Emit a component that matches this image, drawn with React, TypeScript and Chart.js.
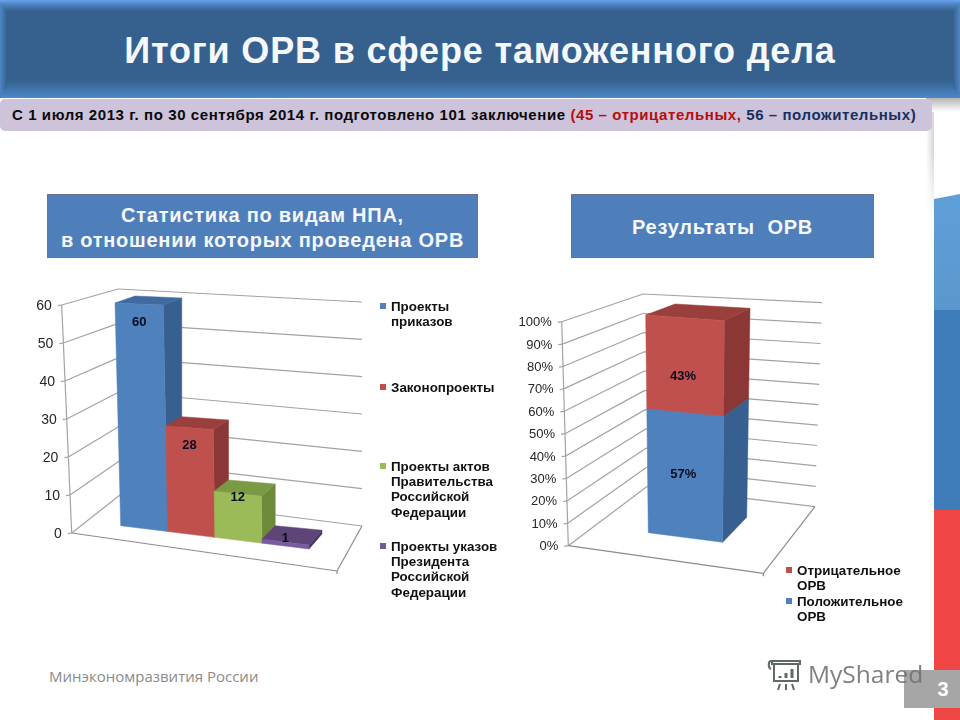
import React, { useEffect, useRef } from "react";
import { Chart } from "chart.js/auto";

// chart data
const npaCategories = ["НПА"];
const npaSeries = [
  "Проекты приказов",
  "Законопроекты",
  "Проекты актов Правительства Российской Федерации",
  "Проекты указов Президента Российской Федерации",
];
const npaValues = [60, 28, 12, 1];
const npaTicks = { min: 0, max: 60, step: 10 };

const orvCategories = ["ОРВ"];
const orvSeries = ["Положительное ОРВ", "Отрицательное ОРВ"];
const orvValues = [57, 43];
const orvTicks = { min: 0, max: 100, step: 10 };

// colours: front, side, top
const blue = ["#4f81bd", "#375f8f", "#3f6b9f"];
const red = ["#c0504d", "#8a3735", "#9b3f3c"];
const green = ["#9bbb59", "#6d8a3a", "#7a9a45"];
const purple = ["#7a5c9e", "#4a3560", "#5e4577"];

type Pt = [number, number];
// quads are tl, tr, bl, br in page pixels
type Geom = {
  origin: Pt;
  wall: { a: Pt; b: Pt; c: Pt; d: Pt; e: Pt; g: Pt; h: Pt };
  front: [Pt, Pt, Pt, Pt];
  back: [Pt, Pt, Pt, Pt];
  tickFont: string;
};

const npaGeom: Geom = {
  origin: [0, 270],
  wall: {
    a: [71.7, 533],
    b: [337, 571],
    c: [120, 495],
    d: [362, 526],
    e: [61.7, 305],
    g: [118, 289],
    h: [362, 302],
  },
  front: [[115, 303], [308, 311], [120.7, 525.7], [309, 549]],
  back: [[135, 296], [322, 304], [135, 516], [322, 534]],
  tickFont: "14px 'Liberation Sans'",
};

const orvGeom: Geom = {
  origin: [500, 270],
  wall: {
    a: [568.3, 545.7],
    b: [763.3, 573.3],
    c: [646.7, 486.7],
    d: [815, 506.7],
    e: [561.7, 321.7],
    g: [643, 294],
    h: [822, 302.7],
  },
  front: [[645.7, 315], [724.3, 320.7], [648.3, 532.7], [722.7, 542.3]],
  back: [[675, 304], [750, 308.3], [672, 507], [746.7, 517.3]],
  tickFont: "13px 'Liberation Sans'",
};

const lerp = (p: Pt, q: Pt, t: number): Pt => [p[0] + (q[0] - p[0]) * t, p[1] + (q[1] - p[1]) * t];
const bilerp = (q: [Pt, Pt, Pt, Pt], u: number, v: number): Pt =>
  lerp(lerp(q[2], q[3], u), lerp(q[0], q[1], u), v);

const poly = (ctx: CanvasRenderingContext2D, pts: Pt[], fill: string) => {
  ctx.beginPath();
  pts.forEach((p, i) => (i ? ctx.lineTo(p[0], p[1]) : ctx.moveTo(p[0], p[1])));
  ctx.closePath();
  ctx.fillStyle = fill;
  ctx.fill();
  ctx.strokeStyle = fill;
  ctx.lineWidth = 0.5;
  ctx.stroke();
};

const seg = (ctx: CanvasRenderingContext2D, p: Pt, q: Pt) => {
  ctx.beginPath();
  ctx.moveTo(p[0], p[1]);
  ctx.lineTo(q[0], q[1]);
  ctx.stroke();
};

// draws the bars as boxes, projecting the pixels the scales gave the flat bars
const boxPlugin = (geom: Geom, labelOffset: (h: number, i: number) => number, suffix: string) => ({
  id: "box3d",
  beforeDatasetsDraw(chart: any) {
    const { ctx, chartArea } = chart;
    const { left, bottom, width, height } = chartArea;
    const w = geom.wall;
    const yScale = chart.scales.y;
    const toV = (py: number) => (bottom - py) / height;
    ctx.save();
    ctx.translate(-geom.origin[0], -geom.origin[1]);

    ctx.strokeStyle = "#a3a3a3";
    ctx.lineWidth = 1.2;
    ctx.textAlign = "right";
    ctx.textBaseline = "middle";
    ctx.font = geom.tickFont;
    yScale.ticks.forEach((tick: any) => {
      const v = toV(yScale.getPixelForValue(tick.value));
      const p0 = lerp(w.a, w.e, v);
      const p1 = lerp(w.c, w.g, v);
      const p2 = lerp(w.d, w.h, v);
      seg(ctx, [p0[0] - 4, p0[1] + 0.6], p0);
      seg(ctx, p0, p1);
      seg(ctx, p1, p2);
      ctx.fillStyle = "#262626";
      ctx.fillText(tick.label, p0[0] - 10, p0[1] + 1);
    });
    seg(ctx, w.e, w.a);
    ctx.strokeStyle = "#8c8c8c";
    seg(ctx, w.a, w.b);
    seg(ctx, w.b, w.d);
    seg(ctx, w.b, [w.b[0], w.b[1] + 3]);

    const labels: { text: string; x: number; y: number }[] = [];
    chart.data.datasets.forEach((ds: any, i: number) => {
      const bar = chart.getDatasetMeta(i).data[0];
      const u0 = (bar.x - bar.width / 2 - left) / width;
      const u1 = (bar.x + bar.width / 2 - left) / width;
      const v0 = toV(bar.base);
      const v1 = toV(bar.y);
      const f = (u: number, v: number) => bilerp(geom.front, u, v);
      const b = (u: number, v: number) => bilerp(geom.back, u, v);
      const [cFront, cSide, cTop] = ds.faces;
      poly(ctx, [f(u1, v0), b(u1, v0), b(u1, v1), f(u1, v1)], cSide);
      poly(ctx, [f(u0, v1), b(u0, v1), b(u1, v1), f(u1, v1)], cTop);
      poly(ctx, [f(u0, v0), f(u1, v0), f(u1, v1), f(u0, v1)], cFront);
      const top = f((u0 + u1) / 2, v1);
      const faceH = f((u0 + u1) / 2, v0)[1] - top[1];
      labels.push({ text: ds.data[0] + suffix, x: top[0] - (suffix ? 2 : 0), y: top[1] + labelOffset(faceH, i) });
    });
    ctx.font = "bold 13px 'Liberation Sans'";
    ctx.textAlign = "center";
    ctx.fillStyle = "#0c0c20";
    labels.forEach((l) => ctx.fillText(l.text, l.x, l.y));
    ctx.restore();
    return false;
  },
});

type BoxChartProps = {
  geom: Geom;
  size: Pt;
  categories: string[];
  series: string[];
  values: number[];
  faces: string[][];
  ticks: { min: number; max: number; step: number };
  stacked: boolean;
  suffix: string;
  labelOffset: (h: number, i: number) => number;
};

const BoxChart: React.FC<BoxChartProps> = (p) => {
  const ref = useRef<HTMLCanvasElement | null>(null);

  useEffect(() => {
    if (!ref.current) return;
    const chart = new Chart(ref.current, {
      type: "bar",
      data: {
        labels: p.categories,
        datasets: p.series.map((label, i) => ({
          label,
          data: [p.values[i]],
          backgroundColor: p.faces[i][0],
          faces: p.faces[i],
          categoryPercentage: 1,
          barPercentage: 1,
        })) as any,
      },
      options: {
        responsive: false,
        animation: false,
        plugins: { legend: { display: false }, tooltip: { enabled: false } },
        scales: {
          x: { display: false, stacked: p.stacked },
          y: {
            display: false,
            stacked: p.stacked,
            min: p.ticks.min,
            max: p.ticks.max,
            ticks: { stepSize: p.ticks.step, callback: (v: any) => v + p.suffix },
          },
        },
      },
      plugins: [boxPlugin(p.geom, p.labelOffset, p.suffix)],
    });
    return () => chart.destroy();
  }, []);

  return (
    <canvas
      ref={ref}
      width={p.size[0]}
      height={p.size[1]}
      style={{ position: "absolute", left: p.geom.origin[0], top: p.geom.origin[1], width: p.size[0], height: p.size[1] }}
    />
  );
};

const sans = "'Liberation Sans', Arial, sans-serif";

const Legend: React.FC<{ text: string; color: string; x: number; y: number; width: number }> = ({ text, color, x, y, width }) => (
  <div style={{ position: "absolute", left: x, top: y, width: width + 12, paddingLeft: 11, font: `bold 13.4px/15.2px ${sans}`, color: "#111" }}>
    <span style={{ position: "absolute", left: 0, top: 4, width: 6, height: 6, background: color }} />
    {text}
  </div>
);

const box: React.CSSProperties = {
  position: "absolute",
  top: 194,
  height: 64,
  boxSizing: "border-box",
  paddingTop: 3,
  background: "#4f7fba",
  border: "1px solid #6d6f98",
  color: "#f4f8fc",
  font: `bold 20px/25px ${sans}`,
  letterSpacing: 0.75,
  textAlign: "center",
  display: "flex",
  alignItems: "center",
  justifyContent: "center",
};

export default function App() {
  return (
    <div style={{ position: "absolute", left: 0, top: 0, width: 960, height: 720, overflow: "hidden", background: "#fff", fontFamily: sans }}>
      {/* tricolour stripe */}
      <div style={{ position: "absolute", left: 934, top: 194, width: 26, height: 116, background: "linear-gradient(#5f9fd8, #5b97cd)", clipPath: "polygon(0 5px, 100% 0, 100% 100%, 0 100%)" }} />
      <div style={{ position: "absolute", left: 934, top: 310, width: 26, height: 200, background: "#3e7db9" }} />
      <div style={{ position: "absolute", left: 934, top: 510, width: 26, height: 210, background: "#f04545" }} />
      <div style={{ position: "absolute", left: 926, top: 100, width: 8, height: 120, background: "linear-gradient(90deg, #fff, #d4d4d4)", maskImage: "linear-gradient(#000 40%, transparent)" }} />
      <div style={{ position: "absolute", left: 926, top: 98, width: 34, height: 14, background: "linear-gradient(#b5b5b5, #fff)" }} />

      {/* header */}
      <div style={{ position: "absolute", left: 0, top: 0, width: 960, height: 98, background: "linear-gradient(#66a3ec 0, #4f86c6 4px, #36618f 11px, #36618f 80px, #4c88c8 98px)" }}>
        <div style={{ position: "absolute", left: 0, top: 4, width: 7, height: 90, background: "linear-gradient(90deg, #4f86c6, #36618f)", clipPath: "polygon(0 0, 100% 7px, 100% 84px, 0 100%)" }} />
        <div style={{ position: "absolute", right: 0, top: 4, width: 7, height: 90, background: "linear-gradient(270deg, #4f86c6, #36618f)", clipPath: "polygon(100% 0, 0 7px, 0 84px, 100% 100%)" }} />
        <div style={{ position: "absolute", left: 0, right: 0, top: 31, textAlign: "center", color: "#f5f9fd", font: `bold 36px/40px ${sans}`, letterSpacing: 0.82, whiteSpace: "nowrap" }}>
          Итоги ОРВ в сфере таможенного дела
        </div>
      </div>

      {/* subtitle */}
      <div style={{ position: "absolute", left: 0, top: 99, width: 932, height: 32, background: "#cdc3da", borderRadius: 5, font: `bold 15px/32px ${sans}`, color: "#0a0a0a", whiteSpace: "nowrap", paddingLeft: 12, boxSizing: "border-box", letterSpacing: 0.58 }}>
        С 1 июля 2013 г. по 30 сентября 2014 г. подготовлено 101 заключение{" "}
        <span style={{ color: "#b80d0d" }}>(45 – отрицательных,</span>{" "}
        <span style={{ color: "#17305f" }}>56 – положительных)</span>
      </div>

      <div style={{ ...box, left: 47, width: 431 }}>
        <span>
          Статистика по видам НПА,
          <br />в отношении которых проведена ОРВ
        </span>
      </div>
      <div style={{ ...box, left: 571, width: 303, whiteSpace: "pre" }}>Результаты  ОРВ</div>

      <BoxChart
        geom={npaGeom}
        size={[375, 320]}
        categories={npaCategories}
        series={npaSeries}
        values={npaValues}
        faces={[blue, red, green, purple]}
        ticks={npaTicks}
        stacked={false}
        suffix=""
        labelOffset={(h) => Math.max(-4, Math.min(18, h * 0.37 - 13.5))}
      />
      <BoxChart
        geom={orvGeom}
        size={[330, 320]}
        categories={orvCategories}
        series={orvSeries}
        values={orvValues}
        faces={[blue, red]}
        ticks={orvTicks}
        stacked={true}
        suffix="%"
        labelOffset={(h, i) => h / 2 + i * 11}
      />

      <Legend text={npaSeries[0]} color={blue[0]} x={380} y={299} width={110} />
      <Legend text={npaSeries[1]} color={red[0]} x={380} y={380} width={110} />
      <Legend text={npaSeries[2]} color={green[0]} x={380} y={459} width={110} />
      <Legend text={npaSeries[3]} color="#6a5f96" x={380} y={539} width={110} />
      <Legend text={orvSeries[1]} color={red[0]} x={786} y={563} width={112} />
      <Legend text={orvSeries[0]} color={blue[0]} x={786} y={594} width={112} />

      {/* footer */}
      <div style={{ position: "absolute", left: 49, top: 666, font: "15px/20px 'Open Sans'", color: "#8b8b8b" }}>Минэкономразвития России</div>
      <div style={{ position: "absolute", left: 904, top: 670, width: 56, height: 38, background: "#a6a6a6", color: "#fff", font: `bold 20px/38px ${sans}`, textAlign: "center", paddingLeft: 22, boxSizing: "border-box" }}>3</div>
      <svg style={{ position: "absolute", left: 766, top: 656 }} width="40" height="36" viewBox="0 0 40 36" fill="none" stroke="#5f6a66" strokeWidth="2">
        <path d="M6 5 H34 V8 H6 Z M8 8 V25 H32 V8 M5 5 C2 5 2 12 5 13" />
        <path d="M14 22 v-2 M20 22 v-5 M26 22 v-9" strokeWidth="3" />
        <path d="M14 28 l-2 6 M20 28 v6 M26 28 l2 6" />
      </svg>
      <div style={{ position: "absolute", left: 808, top: 656, font: "24.5px/36px 'Open Sans'", color: "#6f7472", opacity: 0.9 }}>MyShared</div>
    </div>
  );
}
